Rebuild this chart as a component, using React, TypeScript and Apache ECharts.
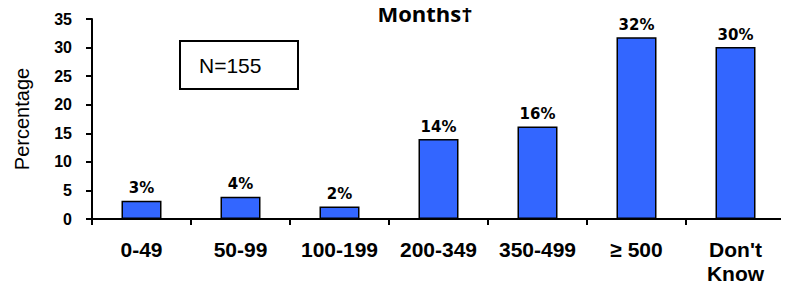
import React, { useEffect, useRef } from "react";
import * as echarts from "echarts";

const categories = ["0-49", "50-99", "100-199", "200-349", "350-499", "≥ 500", "Don't\nKnow"];
const values = [3.2, 3.9, 2.2, 14.0, 16.2, 31.8, 30.1];
const valueLabels = ["3%", "4%", "2%", "14%", "16%", "32%", "30%"];
const yTicks = [0, 5, 10, 15, 20, 25, 30, 35];

export default function App() {
  const ref = useRef<HTMLDivElement>(null);
  useEffect(() => {
    const chart = echarts.init(ref.current!, null, { renderer: "svg" });
    chart.setOption({
      animation: false,
      grid: { left: 92, right: 4, top: 19, bottom: 70, containLabel: false },
      title: {
        text: "Months†",
        left: 425,
        top: 0,
        padding: 0,
        textAlign: "center",
        textStyle: { fontFamily: "Open Sans", fontWeight: "bold", fontSize: 22, lineHeight: 26, color: "#000" },
      },
      graphic: [
        {
          type: "rect",
          shape: { x: 180, y: 41, width: 118, height: 48 },
          style: { fill: "#fff", stroke: "#000", lineWidth: 2 },
        },
        {
          type: "text",
          x: 199,
          y: 65,
          style: { text: "N=155", fontFamily: "Liberation Sans", fontSize: 21, fill: "#000", verticalAlign: "middle" },
        },
      ],
      xAxis: {
        type: "category",
        data: categories,
        axisLine: { lineStyle: { color: "#000", width: 2 } },
        axisTick: { show: true, length: 6, lineStyle: { color: "#000", width: 2 } },
        axisLabel: {
          interval: 0,
          margin: 18,
          color: "#000",
          fontFamily: "Liberation Sans",
          fontWeight: "bold",
          fontSize: 21,
          lineHeight: 24,
        },
      },
      yAxis: {
        type: "value",
        min: yTicks[0],
        max: yTicks[yTicks.length - 1],
        interval: 5,
        name: "Percentage",
        nameLocation: "middle",
        nameGap: 60,
        nameTextStyle: { fontFamily: "Liberation Sans", fontSize: 20, color: "#000" },
        splitLine: { show: false },
        axisLine: { show: true, lineStyle: { color: "#000", width: 2 } },
        axisTick: { show: true, length: 6, lineStyle: { color: "#000", width: 2 } },
        axisLabel: {
          margin: 20,
          color: "#000",
          fontFamily: "Liberation Sans",
          fontWeight: "bold",
          fontSize: 16,
        },
      },
      series: [
        {
          type: "bar",
          data: values,
          barWidth: 40,
          itemStyle: { color: "#3366FF", borderColor: "#000", borderWidth: 1.5 },
          label: {
            show: true,
            position: "top",
            distance: 5,
            formatter: (p: any) => valueLabels[p.dataIndex],
            color: "#000",
            fontFamily: "DejaVu Sans",
            fontWeight: "bold",
            fontSize: 15,
          },
        },
      ],
    });
    return () => chart.dispose();
  }, []);
  return <div ref={ref} style={{ width: 789, height: 289, margin: -8 }} />;
}
